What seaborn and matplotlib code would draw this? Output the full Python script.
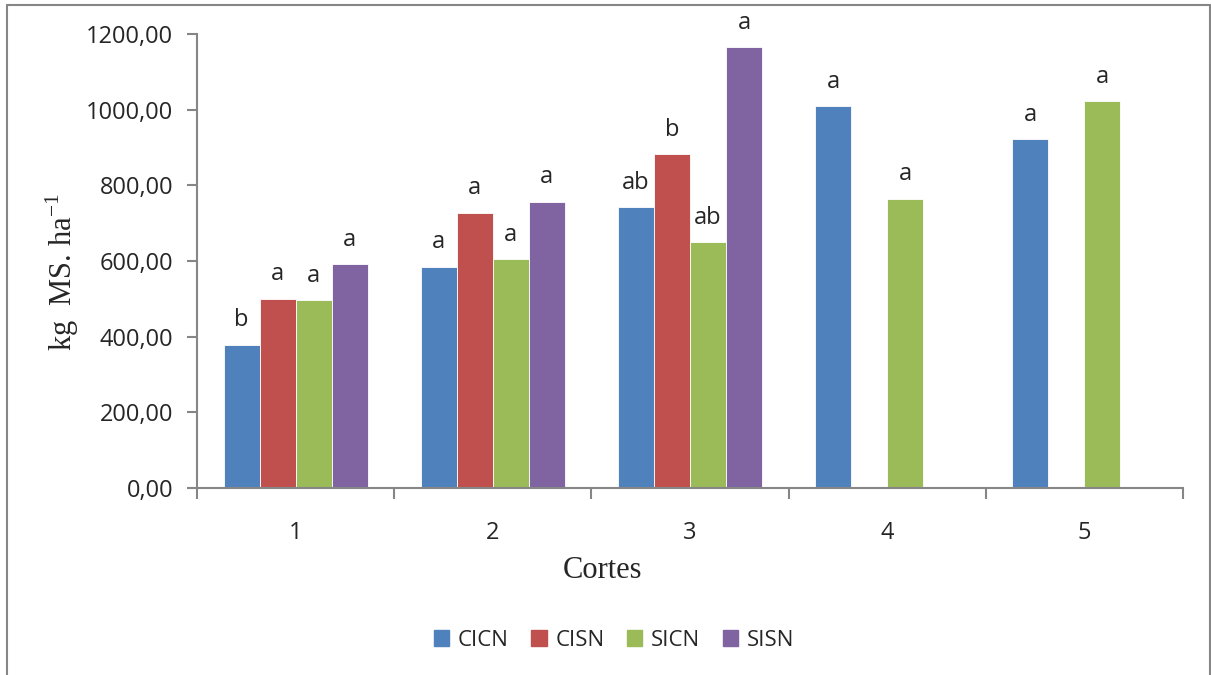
import matplotlib
matplotlib.use("Agg")
import matplotlib.pyplot as plt
import seaborn as sns
import numpy as np
import pandas as pd
from matplotlib.lines import Line2D
from matplotlib.ticker import FuncFormatter, MultipleLocator

cortes = ["1", "2", "3", "4", "5"]
treatments = ["CICN", "CISN", "SICN", "SISN"]
cicn = [379, 585, 742, 1009, 922]
cisn = [500, 728, 882, np.nan, np.nan]
sicn = [496, 604, 649, 765, 1022]
sisn = [591, 757, 1165, np.nan, np.nan]
letters_cicn = ["b", "a", "ab", "a", "a"]
letters_cisn = ["a", "a", "b", "", ""]
letters_sicn = ["a", "a", "ab", "a", "a"]
letters_sisn = ["a", "a", "a", "", ""]
colors = ["#4F81BD", "#C0504D", "#9BBB59", "#8064A2"]

series = {"CICN": cicn, "CISN": cisn, "SICN": sicn, "SISN": sisn}
letters = {"CICN": letters_cicn, "CISN": letters_cisn,
           "SICN": letters_sicn, "SISN": letters_sisn}

rows = []
for t in treatments:
    for c, v in zip(cortes, series[t]):
        rows.append({"Cortes": c, "Tratamento": t, "valor": v})
df = pd.DataFrame(rows)

sns.set_style("white")
plt.rcParams["font.family"] = ["Open Sans", "DejaVu Sans"]
plt.rcParams["mathtext.fontset"] = "custom"
plt.rcParams["mathtext.rm"] = "Liberation Serif"

fig = plt.figure(figsize=(12.11, 6.75), dpi=100)
ax = fig.add_axes([197/1211, 1-488/675, (1183-197)/1211, (488-34)/675])

sns.barplot(data=df, x="Cortes", y="valor", hue="Tratamento",
            order=cortes, hue_order=treatments, palette=colors,
            width=0.73, saturation=1, errorbar=None, ax=ax, legend=False,
            edgecolor="white", linewidth=0.6)

ax.set_ylim(0, 1200)
ax.set_xlim(-0.5, 4.5)
ax.yaxis.set_major_locator(MultipleLocator(200))
ax.yaxis.set_major_formatter(FuncFormatter(lambda v, p: f"{v:.2f}".replace(".", ",")))

gray = "#868686"
for s in ["top", "right"]:
    ax.spines[s].set_visible(False)
for s in ["left", "bottom"]:
    ax.spines[s].set_color(gray)
    ax.spines[s].set_linewidth(1.5)

fs = 17
ax.tick_params(axis="y", which="major", direction="out", length=7, width=1.5,
               color=gray, labelsize=fs, pad=10, left=True)
ax.set_xticks(range(5))
ax.set_xticklabels(cortes)
ax.set_xticks(np.arange(-0.5, 5, 1), minor=True)
ax.tick_params(axis="x", which="major", length=0, labelsize=fs, pad=24)
ax.tick_params(axis="x", which="minor", direction="out", length=8, width=1.5,
               color=gray, bottom=True)

ax.set_xlabel("")
ax.set_ylabel("")
fig.text(603/1211, 1-571/675, "Cortes", family="Liberation Serif", fontsize=22,
         ha="center", va="center")
fig.text(62/1211, 1-272/675, "kg  MS. ha$^{-1}$", family="Liberation Serif",
         fontsize=22, ha="center", va="center", rotation=90)

for t, cont in zip(treatments, ax.containers):
    for bar in cont:
        h = bar.get_height()
        if np.isnan(h):
            continue
        xc = bar.get_x() + bar.get_width() / 2
        idx = int(round(xc))
        lab = letters[t][idx]
        if lab:
            ax.annotate(lab, (xc, h), xytext=(0, 9), textcoords="offset points",
                        ha="center", va="bottom", fontsize=fs)

handles = [plt.Rectangle((0, 0), 1, 1, color=c) for c in colors]
fig.legend(handles, treatments, loc="center", bbox_to_anchor=(614/1211, 1-640/675),
           ncol=4, frameon=False, fontsize=16, handlelength=0.7, handleheight=0.7,
           handletextpad=0.4, columnspacing=1.0)

# outer chart border (left, top, right)
fig.add_artist(Line2D([7/1211, 7/1211], [0, 1-5/675], transform=fig.transFigure,
                      color=gray, lw=1.5))
fig.add_artist(Line2D([7/1211, 1210/1211], [1-5/675, 1-5/675], transform=fig.transFigure,
                      color=gray, lw=1.5))
fig.add_artist(Line2D([1210/1211, 1210/1211], [0, 1-5/675], transform=fig.transFigure,
                      color=gray, lw=1.5))

fig.savefig("out.png", dpi=100)
